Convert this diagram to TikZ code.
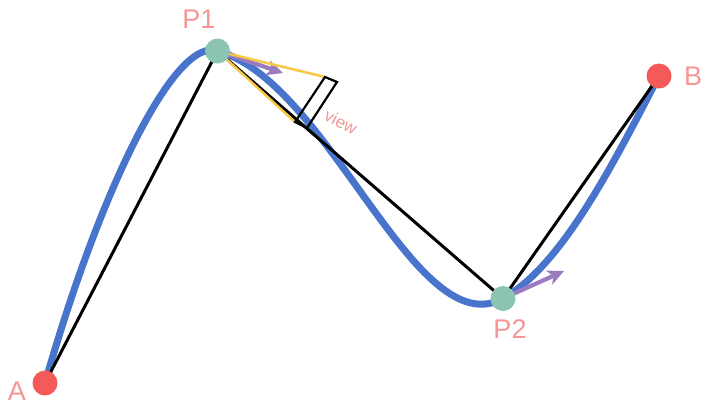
\documentclass[tikz,border=0pt]{standalone}
\usepackage{fontspec}
\setmainfont{Liberation Sans}
\usetikzlibrary{arrows.meta,backgrounds}
\definecolor{curveblue}{RGB}{72,116,204}
\definecolor{frustum}{RGB}{247,200,68}
\definecolor{tangent}{RGB}{155,123,192}
\definecolor{ctrlpt}{RGB}{140,196,180}
\definecolor{endpt}{RGB}{245,90,90}
\definecolor{labelpink}{RGB}{245,150,150}
\begin{document}
\begin{tikzpicture}[x=1pt,y=-1pt,
  endnode/.style={circle,fill=endpt,minimum size=25pt,inner sep=0pt},
  ctrlnode/.style={circle,fill=ctrlpt,minimum size=25pt,inner sep=0pt},
  lbl/.style={text=labelpink,font=\fontsize{27}{27}\selectfont,inner sep=0pt},
  spline/.style={draw=curveblue,line width=7pt},
  chord/.style={draw=black,line width=3pt},
  tanarrow/.style={draw=tangent,line width=4.2pt,-{Stealth[length=16pt,width=15pt,inset=4pt]}},
  frus/.style={draw=frustum,line width=2.5pt},
  viewbox/.style={draw=black,line width=2.2pt,line join=miter}]
\useasboundingbox (0,0) rectangle (701,408);
% points
\node[endnode] (A) at (45,383) {};
\node[ctrlnode] (P1) at (217.5,51) {};
\node[ctrlnode] (P2) at (503,298.5) {};
\node[endnode] (B) at (659,76) {};
% labels
\node[lbl] (lA) at (17,391) {A};
\node[lbl,anchor=west] (lB) at (684,76) {B};
\node[lbl] (lP1) at (199,19) {P1};
\node[lbl] (lP2) at (510,329) {P2};
% control and helper coordinates
\coordinate (c1) at (100,190);
\coordinate (c2) at (175,36);
\coordinate (c3) at (330,82);
\coordinate (c4) at (415,346);
\coordinate (c5) at (563,265);
\coordinate (c6) at (615,160);
\coordinate (r1) at (325,77);
\coordinate (r2) at (337,82);
\coordinate (r3) at (307,128);
\coordinate (r4) at (295,122);
\coordinate (t1) at (283,73);
\coordinate (t2) at (564,271);
\begin{scope}[on background layer]
\path[spline] (A.center) .. controls (c1) and (c2) .. (P1.center)
  .. controls (c3) and (c4) .. (P2.center)
  .. controls (c5) and (c6) .. (B.center);
\path[chord] (A.center) -- (P1.center);
\path[chord] (P1.center) -- (P2.center);
\path[chord] (P2.center) -- (B.center);
\path[tanarrow] (P1.center) -- (t1);
\path[tanarrow] (P2.center) -- (t2);
\path[frus] (P1.center) -- (r1);
\path[frus] (P1.center) -- (r4);
\path[viewbox] (r1) -- (r2) -- (r3) -- (r4) -- cycle;
\end{scope}
\node[text=labelpink,rotate=-27,font=\fontsize{17}{17}\selectfont,inner sep=0pt] (vw) at (341,122) {view};
\end{tikzpicture}
\end{document}
